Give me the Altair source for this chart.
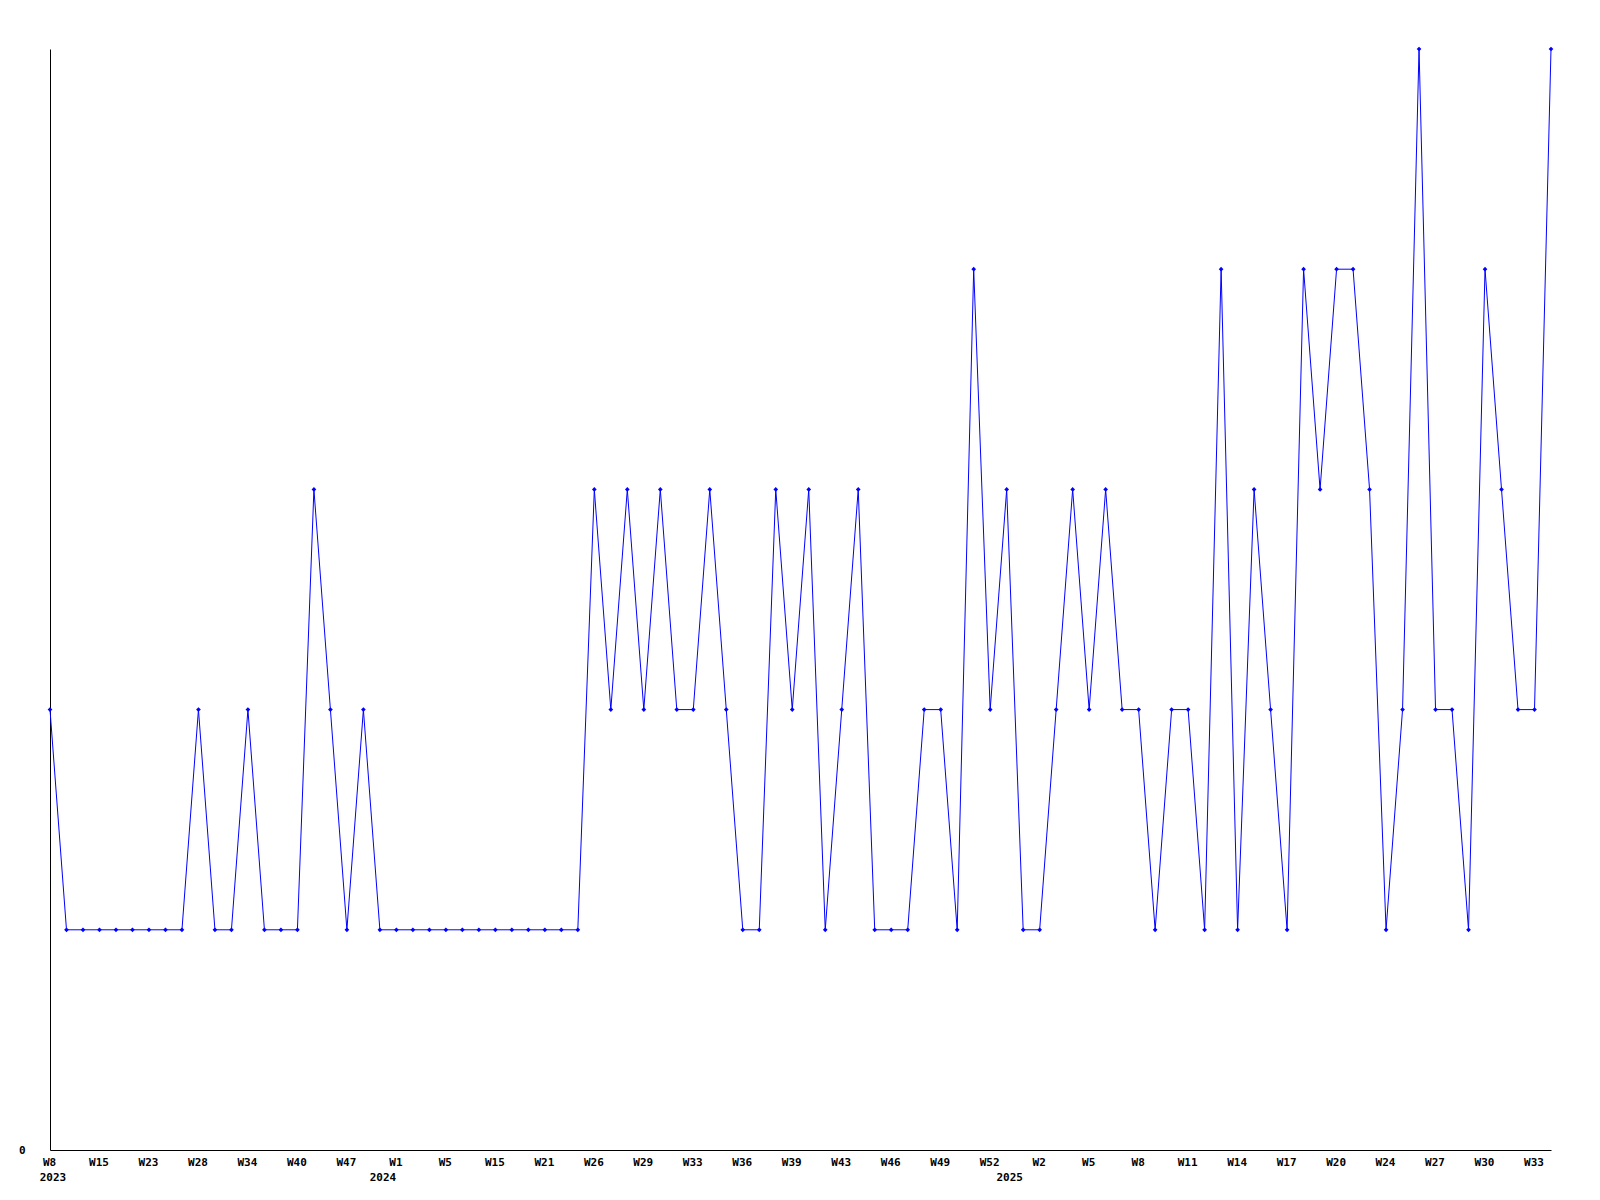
import altair as alt
import pandas as pd

# Values per sample (equally spaced entries)
values = [
    2, 1, 1, 1, 1, 1, 1, 1, 1, 2,
    1, 1, 2, 1, 1, 1, 3, 2, 1, 2,
    1, 1, 1, 1, 1, 1, 1, 1, 1, 1,
    1, 1, 1, 3, 2, 3, 2, 3, 2, 2,
    3, 2, 1, 1, 3, 2, 3, 1, 2, 3,
    1, 1, 1, 2, 2, 1, 4, 2, 3, 1,
    1, 2, 3, 2, 3, 2, 2, 1, 2, 2,
    1, 4, 1, 3, 2, 1, 4, 3, 4, 4,
    3, 1, 2, 5, 2, 2, 1, 4, 3, 2,
    2, 5,
]

# Week tick labels, shown on every third entry
week_labels = [
    "W8", "W15", "W23", "W28", "W34", "W40", "W47",
    "W1", "W5", "W15", "W21", "W26", "W29", "W33", "W36", "W39", "W43", "W46", "W49", "W52",
    "W2", "W5", "W8", "W11", "W14", "W17", "W20", "W24", "W27", "W30", "W33",
]
week_step = 3

# Year labels and the entry where each year starts
years = ["2023", "2024", "2025"]
year_start_index = [0, 20, 58]

df = pd.DataFrame({"idx": list(range(len(values))), "value": values})
ydf = pd.DataFrame({"idx": year_start_index, "year": years})

W, H = 1501, 1101
FONT = "DejaVu Sans Mono"

tick_vals = [i * week_step for i in range(len(week_labels))]
label_arr = "[" + ",".join("'" + s + "'" for s in week_labels) + "]"

xscale = alt.Scale(domain=[0, len(values) - 1], nice=False, zero=False)
yscale = alt.Scale(domain=[0, 5], nice=False, zero=True)

x_enc = alt.X(
    "idx:Q",
    scale=xscale,
    axis=alt.Axis(
        values=tick_vals,
        labelExpr=label_arr + "[round(datum.value/" + str(week_step) + ")]",
        ticks=False,
        tickSize=0,
        grid=False,
        labelPadding=6,
        labelOffset=-1,
        labelFont=FONT,
        labelFontSize=11,
        labelFontWeight="bold",
        labelColor="black",
        labelFlush=False,
        labelOverlap=False,
        domainColor="black",
        domainWidth=1,
        title=None,
    ),
)
y_enc = alt.Y(
    "value:Q",
    scale=yscale,
    axis=alt.Axis(
        values=[0],
        format="d",
        ticks=False,
        tickSize=0,
        grid=False,
        labelPadding=25,
        labelFont=FONT,
        labelFontSize=11,
        labelFontWeight="bold",
        labelColor="black",
        domainColor="black",
        domainWidth=1,
        title=None,
    ),
)

line = alt.Chart(df).mark_line(color="#0000FF", strokeWidth=1).encode(x=x_enc, y=y_enc)
pts = alt.Chart(df).mark_point(
    shape="diamond", filled=True, color="#0000FF", size=22, opacity=1
).encode(x=alt.X("idx:Q", scale=xscale), y=alt.Y("value:Q", scale=yscale))

year_text = alt.Chart(ydf).mark_text(
    font=FONT, fontSize=11, fontWeight="bold", color="black",
    align="center", baseline="middle", dy=28, dx=3,
).encode(
    x=alt.X("idx:Q", scale=xscale),
    y=alt.value(H),
    text="year:N",
)

chart = (
    alt.layer(line, pts, year_text)
    .properties(
        width=W,
        height=H,
        autosize=alt.AutoSizeParams(type="none"),
        padding={"left": 42, "top": 41, "right": 10, "bottom": 45},
        background="white",
    )
    .configure_view(strokeWidth=0)
)

chart.save("out.html", embed_options={"renderer": "svg", "actions": False})
